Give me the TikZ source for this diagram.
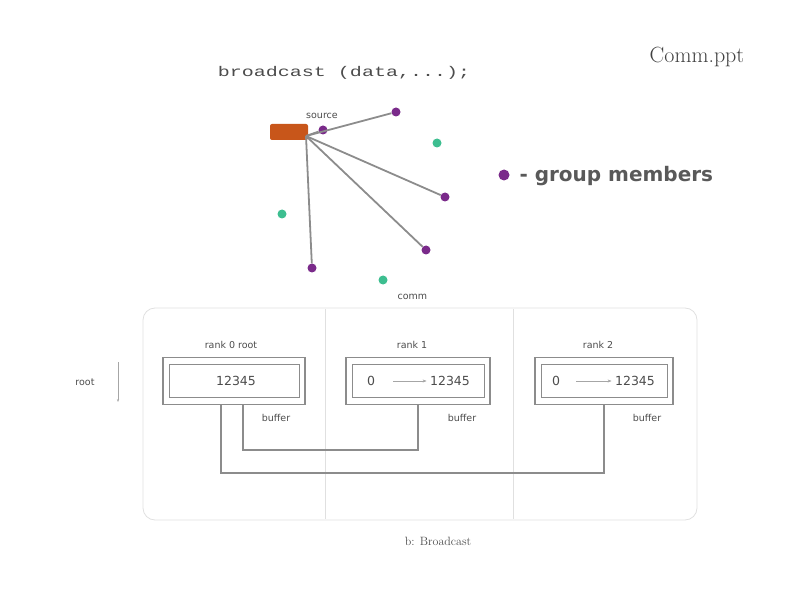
\documentclass[tikz,border=0pt]{standalone}
\usepackage{fontspec}
\setsansfont{DejaVu Sans}
\newfontfamily\monof{Liberation Mono}
\usetikzlibrary{arrows.meta}
\definecolor{orng}{HTML}{C8561A}
\definecolor{purp}{HTML}{7A2A8A}
\definecolor{grn}{HTML}{3DBE90}
\definecolor{ln}{HTML}{8C8C8C}
\tikzset{
  member/.style={circle,fill=purp,inner sep=0pt,minimum size=9pt},
  other/.style={circle,fill=grn,inner sep=0pt,minimum size=9pt},
  spoke/.style={draw=ln,line width=1.8pt},
  small/.style={font=\sffamily\fontsize{9.5}{11}\selectfont,text=black!70},
  val/.style={font=\sffamily\fontsize{12.5}{14}\selectfont,text=black!70},
  bufbox/.style={draw=ln,line width=1.5pt,minimum height=47pt,inner sep=0pt},
  inbox/.style={draw=ln,line width=0.8pt,minimum height=33pt,inner sep=0pt},
  wire/.style={draw=ln,line width=1.8pt},
  divider/.style={draw=black!12,line width=0.8pt}
}
\begin{document}
\begin{tikzpicture}[x=1pt,y=-1pt]
\useasboundingbox (0,0) rectangle (792,612);
% top text
\node[font=\monof\fontsize{14}{16}\selectfont,text=black!70,xscale=1.43] (bc) at (344,73) {broadcast (data,...);};
\node[font=\fontsize{22}{24}\selectfont,text=black!75] (cp) at (697,57) {Comm.ppt};
% source
\node[fill=orng,rounded corners=2pt,minimum width=38pt,minimum height=16pt,inner sep=0pt] (src) at (289,132) {};
\node[small,anchor=south] (srcl) at (322,122) {source};
\coordinate (hub) at (306,136);
% members
\node[member] (m1) at (323,130) {};
\node[member] (m2) at (396,112) {};
\node[member] (m3) at (445,197) {};
\node[member] (m4) at (426,250) {};
\node[member] (m5) at (312,268) {};
\node[other] (g1) at (437,143) {};
\node[other] (g2) at (282,214) {};
\node[other] (g3) at (383,280) {};
\node[small,anchor=west] (comm) at (394,297) {comm};
\foreach \m in {m2,m3,m4,m5} \draw[spoke] (hub) -- (\m);
\draw[spoke] (hub) -- (m1);
% legend
\node[member,minimum size=11pt] (lg) at (504,175) {};
\node[font=\sffamily\bfseries\fontsize{20}{22}\selectfont,text=black!65,anchor=west] (lgt) at (516,176) {- group members};
% lower frame
\node[draw=black!12,line width=0.8pt,rounded corners=12pt,minimum width=554pt,minimum height=212pt] (frame) at (420,414) {};
\draw[divider] (325,309) -- (325,519);
\draw[divider] (513,309) -- (513,519);
% boxes
\node[bufbox,minimum width=142pt] (b0) at (234,381) {};
\node[inbox,minimum width=130pt] (b0i) at (234,381) {};
\node[val] (t0) at (236,381) {12345};
\node[bufbox,minimum width=144pt] (b1) at (418,381) {};
\node[inbox,minimum width=132pt] (b1i) at (418,381) {};
\node[val] (z1) at (371,381) {0};
\node[val] (v1) at (450,381) {12345};
\draw[black!35,line width=0.6pt,-{Stealth[length=4pt]}] (393,381) -- (v1.west);
\node[bufbox,minimum width=138pt] (b2) at (604,381) {};
\node[inbox,minimum width=126pt] (b2i) at (604,381) {};
\node[val] (z2) at (556,381) {0};
\node[val] (v2) at (635,381) {12345};
\draw[black!35,line width=0.6pt,-{Stealth[length=4pt]}] (576,381) -- (v2.west);
% labels
\node[small] (l0) at (231,345) {rank 0 root};
\node[small] (l1) at (412,345) {rank 1};
\node[small] (l2) at (598,345) {rank 2};
\node[small] (u0) at (276,418) {buffer};
\node[small] (u1) at (462,418) {buffer};
\node[small] (u2) at (647,418) {buffer};
% wires
\draw[wire] (b0.south -| 221,0) -- (221,473) -- (604,473) -- (b2.south);
\draw[wire] (b0.south -| 243,0) -- (243,450) -- (418,450) -- (b1.south);
% left label
\node[small] (rt) at (85,382) {root};
\draw[black!35,line width=0.6pt,-{Stealth[length=3pt]}] (118,362) -- (118,402);
% caption
\node[font=\fontsize{12}{14}\selectfont,text=black!70] (cap) at (438,541) {b: Broadcast};
\end{tikzpicture}
\end{document}
